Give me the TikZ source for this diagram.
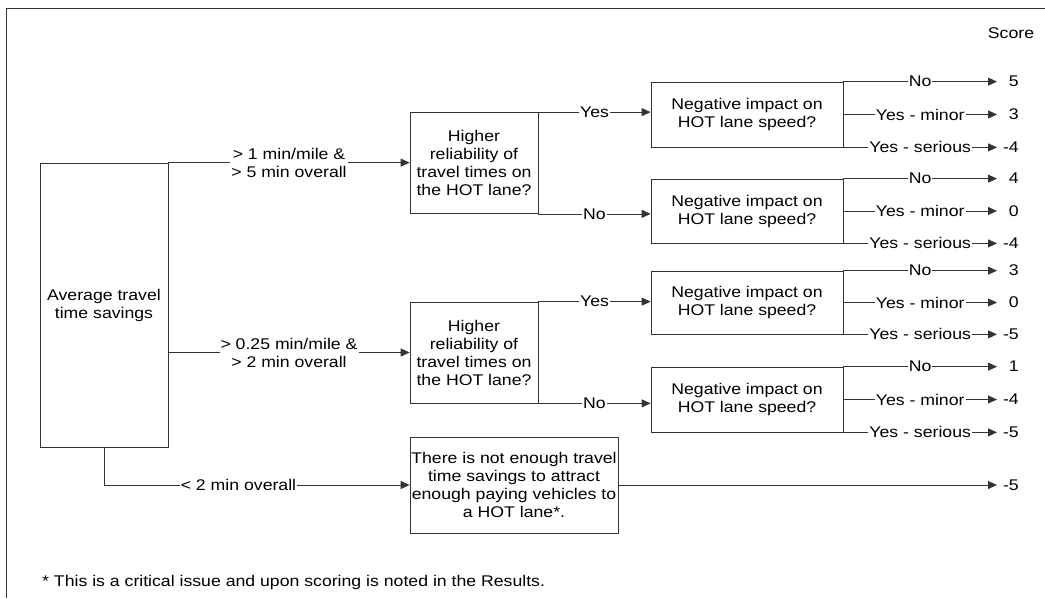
\documentclass[tikz,border=0pt]{standalone}
\usepackage{fontspec}
\setmainfont{Liberation Sans}[FakeStretch=1.14]
\usetikzlibrary{arrows.meta}
\begin{document}
\begin{tikzpicture}[x=1pt,y=-1pt,
  font=\fontsize{15.5}{18}\selectfont,
  box/.style={draw=black!80, line width=0.75pt, inner sep=0pt, align=center},
  lbl/.style={fill=white, inner sep=1pt, align=center},
  link/.style={draw=black!80, line width=0.75pt},
  arr/.style={link, -{Triangle[length=9pt,width=8pt]}},
  score/.style={anchor=east, inner sep=0pt, xshift=22pt}]
\useasboundingbox (0,0) rectangle (1045,598);

% open frame: left and top edges only
\draw[link] (6,598) -- (6,8) -- (1045,8);

\node (scorehead) at (1011,33) {Score};

% decision boxes
\node[box, minimum width=128pt, minimum height=284pt] (avg) at (104,305)
  {Average travel\\time savings};
\node[box, minimum width=128pt, minimum height=101pt] (rel1) at (474,163)
  {Higher\\reliability of\\travel times on\\the HOT lane?};
\node[box, minimum width=128pt, minimum height=101pt] (rel2) at (474,352.5)
  {Higher\\reliability of\\travel times on\\the HOT lane?};
\node[box, minimum width=192pt, minimum height=65pt] (neg1) at (747,114.5)
  {Negative impact on\\HOT lane speed?};
\node[box, minimum width=192pt, minimum height=64pt] (neg2) at (747,211)
  {Negative impact on\\HOT lane speed?};
\node[box, minimum width=192pt, minimum height=63pt] (neg3) at (747,302.5)
  {Negative impact on\\HOT lane speed?};
\node[box, minimum width=192pt, minimum height=65pt] (neg4) at (747,399.5)
  {Negative impact on\\HOT lane speed?};
\node[box, minimum width=208pt, minimum height=96pt] (few) at (514,485)
  {There is not enough travel\\time savings to attract\\enough paying vehicles to\\a HOT lane*.};

% end column of the score arrows
\coordinate (sc) at (997,0);

% travel time savings branches
\draw[arr] (avg.north east) -- (avg.north east -| rel1.west)
  node[lbl, midway] {> 1 min/mile \&\\> 5 min overall};
\draw[arr] (rel2.west -| avg.east) -- (rel2.west)
  node[lbl, midway] {> 0.25 min/mile \&\\> 2 min overall};
\draw[arr] (avg.south) -- (avg.south |- few.west) -- (few.west)
  node[lbl, pos=0.44] {< 2 min overall};

% reliability branches
\draw[arr] (rel1.north east) -- (rel1.north east -| neg1.west) node[lbl, midway] {Yes};
\draw[arr] (rel1.south east) -- (rel1.south east -| neg2.west) node[lbl, midway] {No};
\draw[arr] (rel2.north east) -- (rel2.north east -| neg3.west) node[lbl, midway] {Yes};
\draw[arr] (rel2.south east) -- (rel2.south east -| neg4.west) node[lbl, midway] {No};

% speed impact branches and their scores
\foreach \n/\a/\b/\c in {neg1/5/3/-4, neg2/4/0/-4, neg3/3/0/-5, neg4/1/-4/-5} {
  \draw[arr] (\n.north east) -- (\n.north east -| sc) node[lbl, midway] {No};
  \draw[arr] (\n.east) -- (\n.east -| sc) node[lbl, midway] {Yes - minor};
  \draw[arr] (\n.south east) -- (\n.south east -| sc) node[lbl, midway] {Yes - serious};
  \node[score] (\n-no) at (\n.north east -| sc) {\a};
  \node[score] (\n-minor) at (\n.east -| sc) {\b};
  \node[score] (\n-serious) at (\n.south east -| sc) {\c};
}

\draw[arr] (few.east) -- (few.east -| sc);
\node[score] (few-score) at (few.east -| sc) {-5};

\node[anchor=west, inner sep=0pt] (note) at (42,582)
  {* This is a critical issue and upon scoring is noted in the Results.};
\end{tikzpicture}
\end{document}
